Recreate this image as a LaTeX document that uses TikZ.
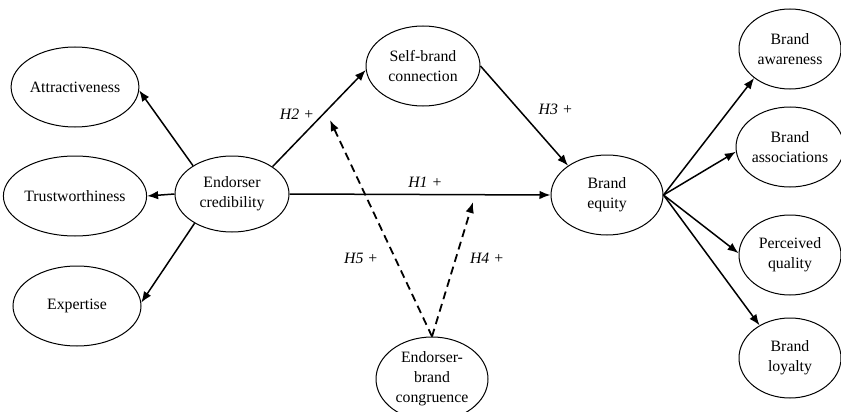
\documentclass[tikz,border=0pt]{standalone}
\usepackage{fontspec}
\setmainfont{Liberation Serif}
\usetikzlibrary{shapes.geometric,arrows.meta,positioning}
\begin{document}
\begin{tikzpicture}[x=1pt,y=-1pt,
  construct/.style={ellipse,draw,line width=1pt,inner sep=0pt,align=center,
    font=\fontsize{15.8}{20}\selectfont},
  link/.style={line width=1.5pt,-{Latex[length=11pt,width=8.5pt]}},
  dlink/.style={link,line width=1.8pt,dash pattern=on 8pt off 5pt},
  hyp/.style={font=\fontsize{15.8}{18}\selectfont\itshape}]
\useasboundingbox (0,0) rectangle (841,412);

% first-order dimensions of credibility
\node[construct,minimum width=126pt,minimum height=80pt] (attr) at (75,87) {Attractiveness};
\node[construct,minimum width=126pt,minimum height=80pt] (trust) at (75,196) {Trustworthiness};
\node[construct,minimum width=128pt,minimum height=80pt] (expert) at (77,306) {Expertise};

% central constructs
\node[construct,minimum width=114pt,minimum height=76pt] (cred) at (232,194) {Endorser\\credibility};
\node[construct,minimum width=114pt,minimum height=80pt] (self) at (423,66) {Self-brand\\connection};
\node[construct,minimum width=112pt,minimum height=80pt] (equity) at (607,195) {Brand\\equity};
\node[construct,minimum width=112pt,minimum height=84pt] (cong) at (432,379) {Endorser-\\brand\\congruence};

% dimensions of brand equity
\node[construct,minimum width=102pt,minimum height=80pt] (aware) at (790,49) {Brand\\awareness};
\node[construct,minimum width=102pt,minimum height=80pt] (assoc) at (790,147) {Brand\\associations};
\node[construct,minimum width=102pt,minimum height=80pt] (qual) at (790,255) {Perceived\\quality};
\node[construct,minimum width=102pt,minimum height=80pt] (loyal) at (790,358) {Brand\\loyalty};

% moderation targets on the H2 and H1 paths
\coordinate (m5) at (330,120);
\coordinate (m4) at (473,202);

% reflective links
\draw[link] (cred.144) -- (attr.-3);
\draw[link] (cred.west) -- (trust.east);
\draw[link] (cred.218) -- (expert.3);

% hypothesised paths
\draw[link] (cred.34) -- (self.184) node[hyp,pos=0.38,xshift=-11pt,yshift=16pt] {H2 +};
\draw[link] (cred.east) -- (equity.west) node[hyp,pos=0.52,above=3pt] {H1 +};
\draw[link] (self.east) -- (equity.143) node[hyp,pos=0.55,above right=2pt and 6pt] {H3 +};
\draw[dlink] (cong.north) -- (m5) node[hyp,pos=0.37,left=12pt,yshift=-2pt] {H5 +};
\draw[dlink] (cong.north) -- (m4) node[hyp,pos=0.58,right=10pt] {H4 +};

% brand equity dimensions
\draw[link] (equity.east) -- (aware.219);
\draw[link] (equity.east) -- (assoc.185);
\draw[link] (equity.east) -- (qual.178);
\draw[link] (equity.east) -- (loyal.133);
\end{tikzpicture}
\end{document}
